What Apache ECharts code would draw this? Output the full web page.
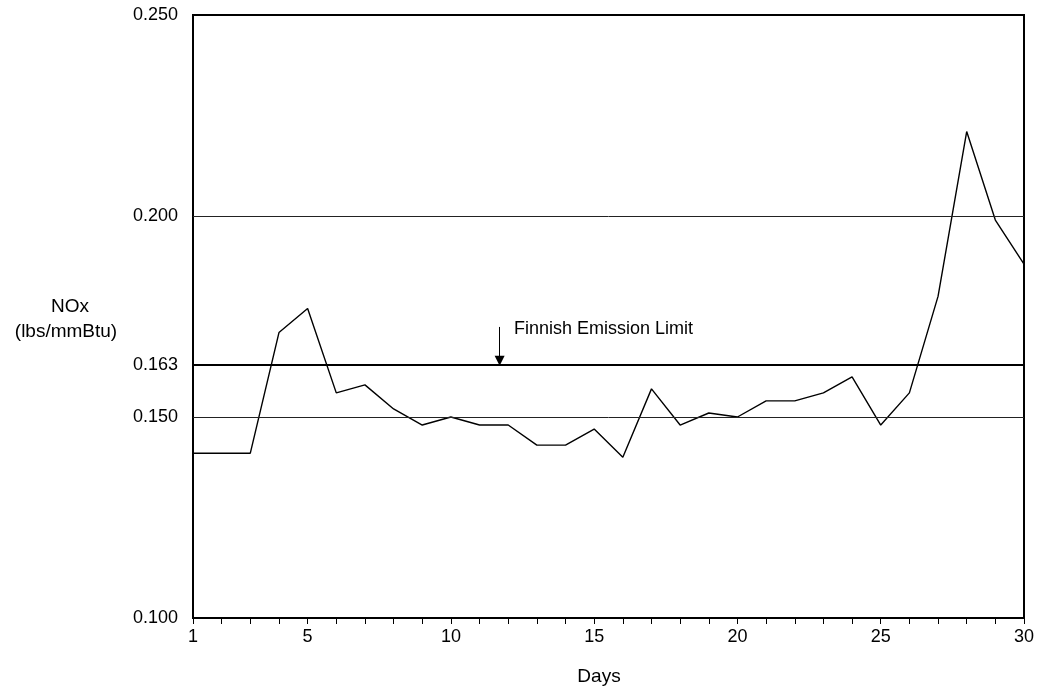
<!DOCTYPE html>
<html>
<head>
<meta charset="utf-8">
<script src="https://cdn.jsdelivr.net/npm/echarts@6/dist/echarts.min.js"></script>
<style>
html,body{margin:0;padding:0;background:#fff;}
#c{width:1038px;height:694px;}
</style>
</head>
<body>
<div id="c"></div>
<script>
// ---- data ----
var days = [1,2,3,4,5,6,7,8,9,10,11,12,13,14,15,16,17,18,19,20,21,22,23,24,25,26,27,28,29,30];
var nox = [0.141,0.141,0.141,0.171,0.177,0.156,0.158,0.152,0.148,0.150,
           0.148,0.148,0.143,0.143,0.147,0.140,0.157,0.148,0.151,0.150,
           0.154,0.154,0.156,0.160,0.148,0.156,0.180,0.221,0.199,0.188];
var yTickLabels = [0.100, 0.150, 0.163, 0.200, 0.250];
var xTickLabels = [1, 5, 10, 15, 20, 25, 30];
var thinRefLines = [0.150, 0.200];
var limitValue = 0.163;
var limitLabel = 'Finnish Emission Limit';
var arrowDay = 11.7;
var arrowTop = 0.1724;
var arrowTip = 0.1640;
var labelDay = 12.2;
var labelValue = 0.1719;
var yTitle = ['NOx', '(lbs/mmBtu)'];
var xTitle = 'Days';

var FONT = 'Liberation Sans, Arial, sans-serif';
var chart = echarts.init(document.getElementById('c'), null, {renderer:'canvas'});

var lineData = days.map(function(d,i){return [d, nox[i]];});

var option = {
  animation: false,
  backgroundColor: '#fff',
  grid: {left:193, top:15, right:14, bottom:76, show:true, borderColor:'#000', borderWidth:2, backgroundColor:'transparent'},
  xAxis: {
    type:'value', min:1, max:30, interval:1,
    axisLine:{show:true, onZero:false, lineStyle:{color:'#000', width:2}},
    axisTick:{show:true, length:6, inside:false, lineStyle:{color:'#000', width:1}},
    axisLabel:{
      margin:10, color:'#000', fontFamily:FONT, fontSize:18,
      formatter:function(v){return xTickLabels.indexOf(v) >= 0 ? String(v) : '';}
    },
    splitLine:{show:false}
  },
  yAxis: {
    type:'value', min:0.1, max:0.25,
    axisLine:{show:true, lineStyle:{color:'#000', width:2}},
    axisTick:{show:false},
    axisLabel:{
      margin:15, color:'#000', fontFamily:FONT, fontSize:18,
      customValues: yTickLabels,
      formatter:function(v){return v.toFixed(3);}
    },
    splitLine:{show:false}
  },
  graphic: [
    {type:'text', style:{text:yTitle[0], x:70, y:307, textAlign:'center', textVerticalAlign:'middle', font:'19px '+FONT, fill:'#000'}},
    {type:'text', style:{text:yTitle[1], x:66, y:332, textAlign:'center', textVerticalAlign:'middle', font:'19px '+FONT, fill:'#000'}},
    {type:'text', style:{text:xTitle, x:599, y:677, textAlign:'center', textVerticalAlign:'middle', font:'19px '+FONT, fill:'#000'}}
  ],
  series: [
    {
      type:'line', data: lineData, symbol:'none', silent:true,
      lineStyle:{color:'#000', width:1.4},
      markLine:{
        silent:true, symbol:['none','none'], animation:false, precision:4,
        label:{show:false},
        data: thinRefLines.map(function(v){return {yAxis:v, lineStyle:{color:'#222', width:1, type:'solid'}};})
          .concat([{yAxis:limitValue, lineStyle:{color:'#000', width:2.2, type:'solid'}}])
      }
    },
    {
      type:'line', data:[], silent:true,
      markLine:{
        silent:true, animation:false, precision:4,
        symbol:['none','triangle'], symbolSize:[10,10],
        label:{show:false},
        lineStyle:{color:'#000', width:1, type:'solid'},
        data:[[{coord:[arrowDay, arrowTop]},{coord:[arrowDay, arrowTip]}]]
      },
      markPoint:{
        silent:true, animation:false,
        symbol:'circle', symbolSize:0,
        label:{show:true, position:'right', distance:0, color:'#000', fontFamily:FONT, fontSize:18, formatter:limitLabel},
        data:[{coord:[labelDay, labelValue]}]
      }
    }
  ]
};
chart.setOption(option);
</script>
</body>
</html>
